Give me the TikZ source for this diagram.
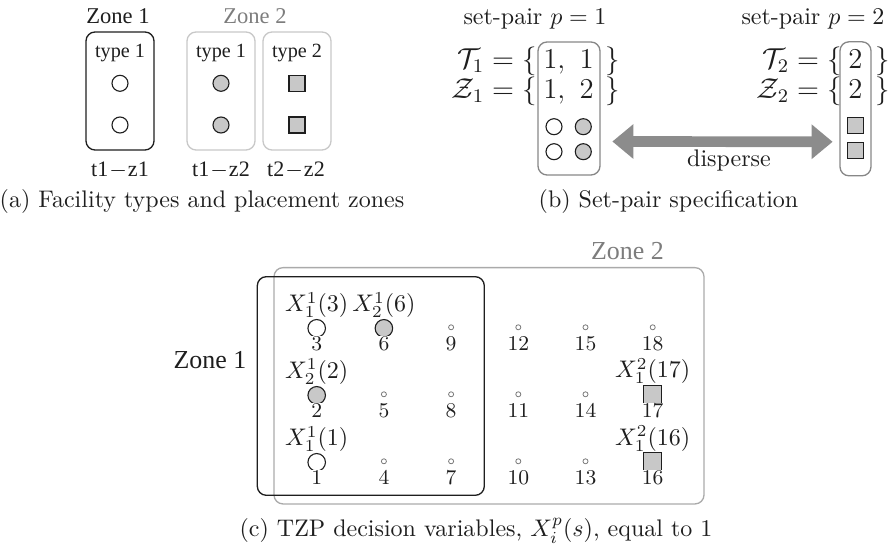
\documentclass[tikz,border=0pt]{standalone}
\usepackage{fix-cm}
\usepackage{fontspec}
\newfontfamily\tms{Liberation Serif}
\usetikzlibrary{arrows.meta,calc}
\definecolor{boxlight}{RGB}{200,200,200}
\definecolor{zonegray}{RGB}{125,125,125}
\definecolor{setbox}{RGB}{135,135,135}
\definecolor{zonebox}{RGB}{170,170,170}
\definecolor{markfill}{RGB}{200,200,200}
\definecolor{arrowgray}{RGB}{140,140,140}
\definecolor{dotgray}{RGB}{120,120,120}
\definecolor{ink}{RGB}{30,30,30}
\newcommand\fsz[1]{\fontsize{#1}{#1}\selectfont}
\begin{document}
% one picture unit = 1/2.4 pt, so that 10pt text is 24 units high
\begin{tikzpicture}[x=0.41667pt,y=-0.41667pt,
  txt/.style={inner sep=0pt, anchor=base, text=ink},
  abox/.style={draw=ink, line width=0.55pt, rounded corners=3.75pt, inner sep=0pt, minimum width=28.33pt, minimum height=49.17pt},
  aboxl/.style={abox, draw=boxlight},
  bbox/.style={draw=setbox, line width=0.55pt, rounded corners=3.75pt, inner sep=0pt},
  zbox/.style={line width=0.55pt, rounded corners=3.75pt, inner sep=0pt},
  wcirc/.style={circle, draw=ink, line width=0.46pt, fill=white, minimum size=6.67pt, inner sep=0pt},
  gcirc/.style={wcirc, fill=markfill},
  sqr/.style={rectangle, draw=ink, line width=0.46pt, fill=markfill, minimum size=6.67pt, inner sep=0pt},
  bigw/.style={wcirc, minimum size=7.3pt},
  bigg/.style={gcirc, minimum size=7.3pt},
  bigs/.style={sqr, minimum size=7.5pt},
  dot/.style={circle, draw=dotgray, line width=0.33pt, minimum size=2.1pt, inner sep=0pt},
  num/.style={txt, font=\fsz{8.75}, fill=white, inner sep=0.2pt},
  xlab/.style={txt, font=\fsz{10}},
  captxt/.style={txt, font=\fsz{10}}
]
\useasboundingbox (0,0) rectangle (891,550);

% ---------------- (a) ----------------
\node[txt, font=\tms\fsz{9.4}] (az1) at (118,24) {Zone 1};
\node[txt, font=\tms\fsz{9.4}, text=zonegray] (az2) at (255,24) {Zone 2};
\node[abox] (a1) at (120,91) {};
\node[aboxl] (a2) at (221,91) {};
\node[aboxl] (a3) at (297,91) {};
\node[txt, font=\tms\fsz{8.4}] (ty1) at (120,57.7) {type 1};
\node[txt, font=\tms\fsz{8.4}] (ty2) at (221,57.7) {type 1};
\node[txt, font=\tms\fsz{8.4}] (ty3) at (297,57.7) {type 2};
\node[wcirc] (ac1) at (120,83.3) {};
\node[wcirc] (ac2) at (120,125) {};
\node[gcirc] (ac3) at (221,83.3) {};
\node[gcirc] (ac4) at (221,125) {};
\node[sqr] (as1) at (297,83.3) {};
\node[sqr] (as2) at (297,125) {};
\node[txt, font=\tms\fsz{9.2}] (l1) at (120,176.7) {t1\kern0.4pt$-$\kern0.4pt z1};
\node[txt, font=\tms\fsz{9.2}] (l2) at (221,176.7) {t1\kern0.4pt$-$\kern0.4pt z2};
\node[txt, font=\tms\fsz{9.2}] (l3) at (296,176.7) {t2\kern0.4pt$-$\kern0.4pt z2};
\node[captxt] (capa) at (202,208) {(a) Facility types and placement zones};

% ---------------- (b) ----------------
\node[txt, font=\fsz{10}] (sp1) at (535,25) {set-pair $p=1$};
\node[txt, font=\fsz{10}] (sp2) at (813,25) {set-pair $p=2$};
\node[bbox, minimum width=25.83pt, minimum height=55.42pt] (b1) at (569,108.5) {};
\node[bbox, minimum width=12.92pt, minimum height=55.83pt] (b2) at (855.5,108.8) {};
\node[txt, font=\fsz{12}, anchor=base east] (t1l) at (537,68.3) {$\mathcal{T}_1 = \{$};
\node[txt, font=\fsz{12}] (t1m) at (568.5,68.3) {$1,\ 1$};
\node[txt, font=\fsz{12}, anchor=base west] (t1r) at (605,68.3) {$\}$};
\node[txt, font=\fsz{12}, anchor=base east] (z1l) at (537,98.3) {$\mathcal{Z}_1 = \{$};
\node[txt, font=\fsz{12}] (z1m) at (568.5,98.3) {$1,\ 2$};
\node[txt, font=\fsz{12}, anchor=base west] (z1r) at (605,98.3) {$\}$};
\node[txt, font=\fsz{12}, anchor=base east] (t2l) at (842,68.3) {$\mathcal{T}_2 = \{$};
\node[txt, font=\fsz{12}] (t2m) at (855.5,68.3) {$2$};
\node[txt, font=\fsz{12}, anchor=base west] (t2r) at (875,68.3) {$\}$};
\node[txt, font=\fsz{12}, anchor=base east] (z2l) at (842,98.3) {$\mathcal{Z}_2 = \{$};
\node[txt, font=\fsz{12}] (z2m) at (855.5,98.3) {$2$};
\node[txt, font=\fsz{12}, anchor=base west] (z2r) at (875,98.3) {$\}$};
\node[wcirc] (bc1) at (554,126.7) {};
\node[gcirc] (bc2) at (583.3,126.7) {};
\node[wcirc] (bc3) at (554,151.7) {};
\node[gcirc] (bc4) at (583.3,151.7) {};
\node[sqr] (bs1) at (855.5,125.7) {};
\node[sqr] (bs2) at (855.5,150.3) {};
\coordinate (al) at ($(b1.east)+(11.7,33)$);
\coordinate (ar) at ($(b2.west)+(-6.7,33)$);
\draw[arrowgray, line width=4.46pt, {Triangle[width=13.9pt,length=8.75pt]}-{Triangle[width=13.9pt,length=8.75pt]}] (al) -- (ar);
\node[txt, font=\fsz{10}] (disp) at (729,166.5) {disperse};
\node[captxt] (capb) at (668.5,208) {(b) Set-pair specification};

% ---------------- (c) ----------------
\node[zbox, draw=zonebox, minimum width=179.17pt, minimum height=98.46pt] (zone2) at (489,385.8) {};
\node[zbox, draw=ink, minimum width=94.58pt, minimum height=91.08pt] (zone1) at (370.8,386) {};
\node[txt, font=\tms\fsz{10.8}] (zl1) at (210,368.3) {Zone 1};
\node[txt, font=\tms\fsz{10.8}, text=zonegray] (zl2) at (627.5,260) {Zone 2};

\foreach \n/\c/\r in {4/1/2, 5/1/1, 7/2/2, 8/2/1, 9/2/0, 10/3/2, 11/3/1, 12/3/0, 13/4/2, 14/4/1, 15/4/0, 18/5/0}
  \node[dot] (m\n) at ({316.7+67.2*\c},{327.3+67*\r}) {};
\node[bigw] (m3) at (316.7,328.3) {};
\node[bigg] (m6) at (383.9,328.3) {};
\node[bigg] (m2) at (316.7,395.3) {};
\node[bigw] (m1) at (316.7,462.3) {};
\node[bigs] (m17) at (652.7,394.3) {};
\node[bigs] (m16) at (652.7,461.3) {};
\foreach \c in {0,...,5}
  \foreach \r in {0,1,2} {
    \pgfmathtruncatemacro\n{3*\c+3-\r}
    \node[num] (n\n) at ({316.7+67.2*\c},{350.8+67*\r}) {\n};
  }
\node[xlab] (x3) at (316.7,312) {$X_1^1(3)$};
\node[xlab] (x6) at (383.9,312) {$X_2^1(6)$};
\node[xlab] (x2) at (316.7,378.5) {$X_2^1(2)$};
\node[xlab] (x1) at (316.7,446) {$X_1^1(1)$};
\node[xlab] (x17) at (652.7,378) {$X_1^2(17)$};
\node[xlab] (x16) at (652.7,445.5) {$X_1^2(16)$};
\node[captxt] (capc) at (476,537) {(c) TZP decision variables, $X_i^p(s)$, equal to 1};
\end{tikzpicture}
\end{document}
